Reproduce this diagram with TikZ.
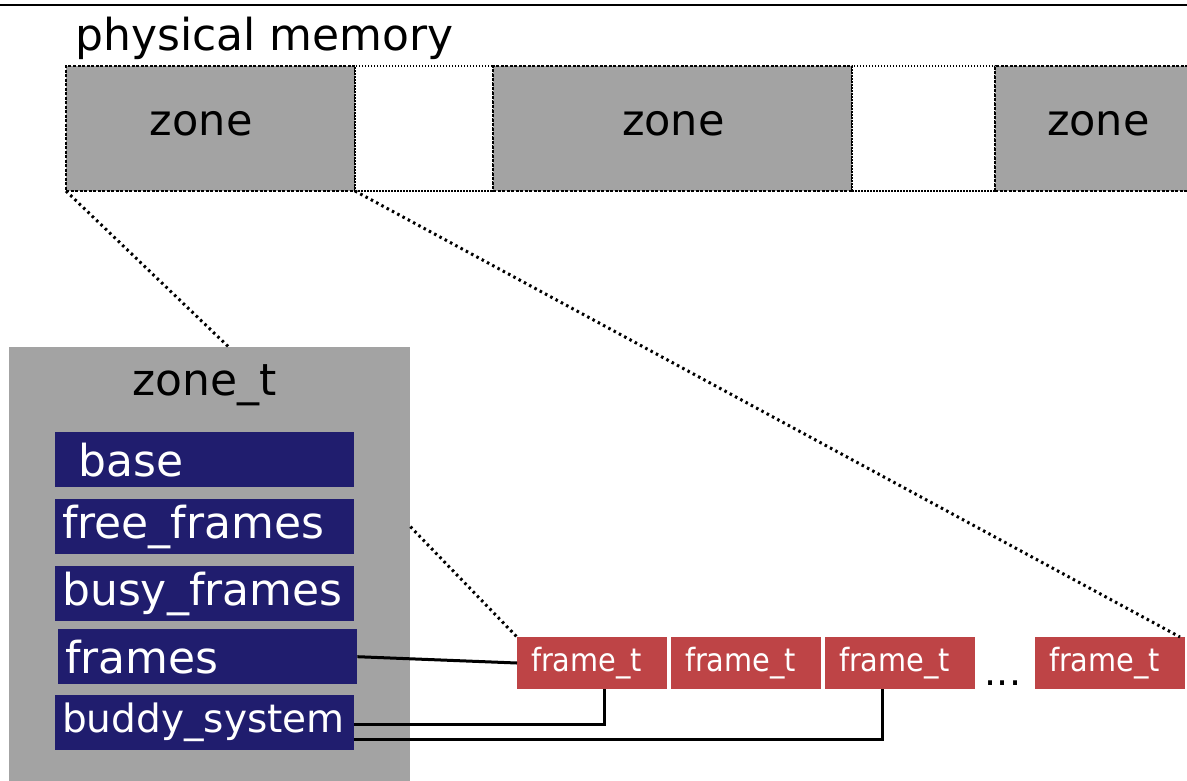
\documentclass[tikz,border=0pt]{standalone}
\usepackage{fontspec}
\setmainfont{DejaVu Sans}
\newfontfamily\condfont{DejaVu Sans Condensed}
\usetikzlibrary{positioning}
\definecolor{zonegray}{HTML}{A3A3A3}
\definecolor{fieldblue}{HTML}{201D6E}
\definecolor{framered}{HTML}{BE4446}
\newcommand{\bigtext}{\fontsize{43}{46}\selectfont}

\begin{document}
\begin{tikzpicture}[
  x=1pt, y=-1pt,
  zonebox/.style={draw, fill=zonegray, line width=1.8pt, dash pattern=on 3pt off 1.5pt,
    minimum height=125pt, inner sep=0pt, outer sep=0pt, text depth=10pt, align=left, font=\bigtext},
  gapbox/.style={draw, fill=white, line width=1.2pt, dash pattern=on 1.5pt off 1.5pt,
    minimum height=125pt, inner sep=0pt, outer sep=0pt},
  field/.style={fill=fieldblue, text=white, minimum width=299pt, minimum height=55pt,
    text width=299pt-14pt, inner xsep=7pt, inner ysep=0pt, align=left, anchor=north west,
    font=\fontsize{44}{46}\selectfont},
  framebox/.style={fill=framered, text=white, minimum width=150pt, minimum height=52pt,
    text width=150pt-28pt, inner xsep=14pt, inner ysep=0pt, align=left, outer sep=0pt,
    font=\condfont\fontsize{32}{34}\selectfont},
  zoomline/.style={line width=3pt, dash pattern=on 2.5pt off 3.5pt},
  wire/.style={line width=3pt}
]
\useasboundingbox (0,0) rectangle (1187,780);
\draw[line width=2.5pt] (0,5) -- (1187,5);
\node[anchor=base west, font=\fontsize{44}{46}\selectfont, inner sep=0pt] (title) at (75,50) {physical memory};

% zones of physical memory
\node[zonebox, minimum width=289pt, text width=289pt, anchor=north west] (z1) at (66,66) {\hspace*{84pt}zone};
\node[gapbox, minimum width=138pt, right=0pt of z1] (g1) {};
\node[zonebox, minimum width=359pt, text width=359pt, right=0pt of g1] (z2) {\hspace*{129pt}zone};
\node[gapbox, minimum width=143pt, right=0pt of z2] (g2) {};
\node[zonebox, minimum width=250pt, text width=250pt, right=0pt of g2] (z3) {\hspace*{52pt}zone};

% zone_t structure
\node[fill=zonegray, minimum width=401pt, minimum height=445pt, anchor=north west,
  inner sep=0pt] (zt) at (9,347) {};
\node[font=\fontsize{44}{46}\selectfont] (ztname) at (205,385) {zone\_t};
\node[field, inner xsep=23pt, text width=299pt-46pt] (base) at (55,432) {base};
\node[field] (free) at (55,499) {free\_frames};
\node[field] (busy) at (55,566) {busy\_frames};
\node[field] (frames) at (58,629) {frames};
\node[field, font=\fontsize{39}{42}\selectfont] (buddy) at (55,695) {buddy\_system};

% frame_t array
\node[framebox, anchor=north west] (f1) at (517,637) {frame\_t};
\node[framebox, right=4pt of f1] (f2) {frame\_t};
\node[framebox, right=4pt of f2] (f3) {frame\_t};
\node[font=\fontsize{38}{40}\selectfont, anchor=base, inner sep=0pt] (dots) at (1003,685) {...};
\node[framebox, anchor=north west] (f4) at (1035,637) {frame\_t};

% zoom lines
\draw[zoomline] (z1.south west) -- ([xshift=19pt]zt.north);
\draw[zoomline] (z1.south east) -- ([xshift=-5pt]f4.north east);
\draw[zoomline] (zt.east |- free.east) -- (f1.north west);

% pointers
\draw[wire] (frames.east) -- (f1.west);
\draw[wire] ([yshift=-1.5pt]buddy.east) -| ([xshift=12pt]f1.south);
\draw[wire] ([yshift=-16.5pt]buddy.east) -| ([xshift=-18pt]f3.south);
\end{tikzpicture}
\end{document}
